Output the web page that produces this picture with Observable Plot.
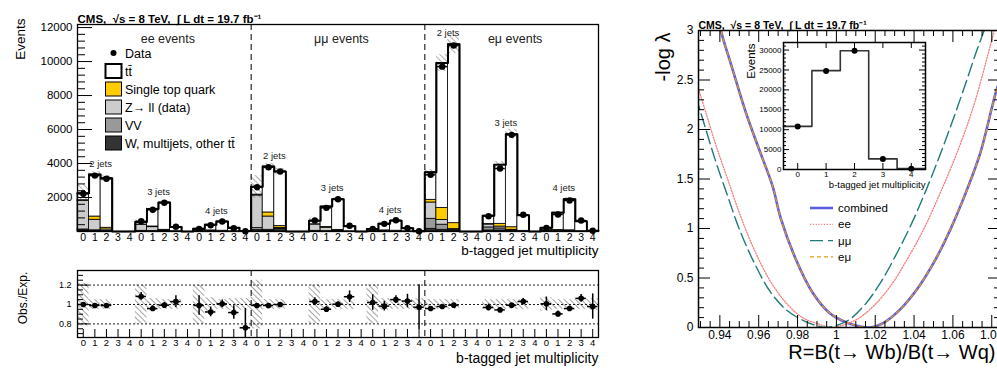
<!DOCTYPE html>
<html><head><meta charset="utf-8">
<script src="https://cdn.jsdelivr.net/npm/d3@7"></script>
<script src="https://cdn.jsdelivr.net/npm/@observablehq/plot@0.6"></script>
<style>
body{margin:0;background:#fff;}
#root{position:relative;width:997px;height:372px;overflow:hidden;background:#fff;font-family:"Liberation Sans",Arial,Helvetica,sans-serif;}
#root svg{position:absolute;max-width:none;}
</style></head><body><div id="root"></div>
<script>
// ---------------- DATA ----------------
const channels = ["ee", "μμ", "eμ"];
const jetLabels = ["2 jets", "3 jets", "4 jets"];
const btagLabels = ["0", "1", "2", "3", "4"];
// 45 bins: channel (ee, μμ, eμ) x jets (2,3,4) x b-tags (0..4)
const dataEvents = [
 2220, 3290, 3100, null, null,
 606, 1276, 1688, 276, null,
 157, 370, 588, 196, 20,
 2606, 3782, 3529, null, null,
 647, 1393, 1900, 335, null,
 157, 450, 665, 196, 20,
 3333, 9700, 10940, null, null,
 900, 3705, 5686, 982, null,
 216, 1000, 1823, 647, 40];
const mcTTbar = [
 410, 2470, 2910, 0, 0,
 150, 1035, 1600, 251, 0,
 85, 335, 539, 202, 24,
 460, 2700, 3210, 0, 0,
 203, 1195, 1799, 297, 0,
 79, 393, 587, 178, 19,
 1616, 8520, 10530, 0, 0,
 489, 3475, 5476, 912, 0,
 134, 1022, 1833, 589, 40];
const mcSingleTop = [
 40, 190, 100, 0, 0,
 10, 40, 40, 5, 0,
 5, 15, 20, 5, 1,
 50, 240, 100, 0, 0,
 15, 50, 40, 5, 0,
 5, 15, 20, 5, 1,
 157, 710, 350, 0, 0,
 30, 160, 150, 20, 0,
 10, 40, 50, 15, 1];
const mcZll = [
 1680, 620, 90, 0, 0,
 360, 230, 50, 10, 0,
 60, 40, 20, 5, 1,
 1920, 780, 50, 0, 0,
 370, 200, 40, 5, 0,
 60, 40, 20, 5, 1,
 960, 280, 10, 0, 0,
 170, 110, 20, 5, 0,
 20, 15, 5, 1, 0];
const mcVV = [
 60, 40, 10, 0, 0,
 20, 15, 5, 1, 0,
 5, 5, 3, 1, 0,
 120, 60, 20, 0, 0,
 20, 10, 5, 1, 0,
 5, 5, 3, 1, 0,
 590, 300, 60, 0, 0,
 180, 120, 40, 5, 0,
 30, 15, 5, 1, 0];
const mcOther = [
 60, 30, 20, 0, 0,
 20, 10, 5, 1, 0,
 5, 5, 3, 1, 0,
 80, 40, 150, 0, 0,
 20, 10, 10, 2, 0,
 5, 5, 3, 1, 0,
 157, 100, 70, 0, 0,
 60, 60, 40, 10, 0,
 20, 15, 10, 3, 0];
const mcRelUnc = [
 0.22, 0.05, 0.05, 0, 0,
 0.20, 0.06, 0.05, 0.05, 0,
 0.20, 0.07, 0.05, 0.06, 0.06,
 0.25, 0.05, 0.05, 0, 0,
 0.20, 0.05, 0.05, 0.05, 0,
 0.20, 0.06, 0.05, 0.05, 0.06,
 0.05, 0.05, 0.05, 0, 0,
 0.05, 0.05, 0.05, 0.05, 0,
 0.07, 0.05, 0.05, 0.05, 0.06];
const ratioObsExp = [
 1.0, 0.99, 0.99, null, null,
 1.083, 0.958, 0.993, 1.03, null,
 0.99, 0.923, 1.007, 0.917, 0.76,
 0.99, 0.99, 1.0, null, null,
 1.03, 0.951, 1.003, 1.08, null,
 1.02, 0.983, 1.05, 1.035, 0.972,
 0.958, 0.979, 0.993, null, null,
 0.969, 0.944, 0.993, 1.031, null,
 1.007, 0.903, 0.958, 1.063, 0.979];
const ratioErr = [
 0.02, 0.02, 0.02, 0, 0,
 0.04, 0.03, 0.025, 0.06, 0,
 0.10, 0.05, 0.04, 0.07, 0.20,
 0.02, 0.02, 0.02, 0, 0,
 0.04, 0.03, 0.025, 0.06, 0,
 0.08, 0.05, 0.04, 0.07, 0.23,
 0.02, 0.012, 0.012, 0, 0,
 0.035, 0.02, 0.015, 0.03, 0,
 0.07, 0.03, 0.025, 0.04, 0.13];

// inset: all channels summed
const insetBtag = [0, 1, 2, 3, 4];
const insetData = [10830, 24750, 29830, 2660, 170];
const insetMC = [10830, 24830, 29830, 2660, 250];

// likelihood scans
const combinedR = [0.9385, 0.9405, 0.9465, 0.9534, 0.9602, 0.9671, 0.9714, 0.9791, 0.9877, 0.9962, 1.0031, 1.009, 1.0145, 1.0176, 1.0245, 1.033, 1.0416, 1.0502, 1.0588, 1.0674, 1.0742, 1.0828, 1.0850];
const combinedNLL = [3.2, 3.0, 2.61, 2.17, 1.80, 1.43, 1.10, 0.69, 0.354, 0.152, 0.068, 0.024, 0.003, 0.0, 0.05, 0.186, 0.388, 0.657, 0.995, 1.40, 1.77, 2.42, 2.52];
const eeR = [0.9277, 0.9328, 0.938, 0.944, 0.95, 0.9568, 0.9653, 0.9739, 0.9825, 0.991, 0.997, 1.0022, 1.0108, 1.0193, 1.0279, 1.0365, 1.045, 1.0536, 1.0622, 1.0707, 1.0793, 1.0830];
const eeNLL = [2.49, 2.17, 1.84, 1.50, 1.16, 0.826, 0.49, 0.253, 0.10, 0.034, 0.0, 0.017, 0.085, 0.22, 0.42, 0.69, 0.995, 1.365, 1.77, 2.24, 2.85, 3.12];
const mumuR = [0.9277, 0.9328, 0.938, 0.944, 0.95, 0.9576, 0.9662, 0.9748, 0.9833, 0.9905, 0.995, 1.0057, 1.0142, 1.0228, 1.0314, 1.0399, 1.0485, 1.0571, 1.0656, 1.0725, 1.0790];
const mumuNLL = [2.33, 2.0, 1.67, 1.33, 0.995, 0.657, 0.354, 0.169, 0.068, 0.015, 0.0, 0.068, 0.22, 0.455, 0.76, 1.10, 1.50, 1.94, 2.41, 2.81, 3.15];
const emuR = combinedR.slice();
const emuNLL = [3.2, 3.0, 2.61, 2.17, 1.80, 1.43, 1.10, 0.69, 0.354, 0.152, 0.07, 0.026, 0.004, 0.0, 0.05, 0.186, 0.39, 0.66, 1.0, 1.40, 1.77, 2.42, 2.52];
const rTicks = [0.94, 0.96, 0.98, 1, 1.02, 1.04, 1.06, 1.08];
const nllTicks = [0, 0.5, 1, 1.5, 2, 2.5, 3];

// ---------------- STYLE ----------------
const FONT = '"Liberation Sans", Arial, Helvetica, sans-serif';
const titleText = "CMS,  √s = 8 TeV,  ∫ L dt = 19.7 fb⁻¹";
const root = document.getElementById("root");
function place(el, left, top) { el.style.left = left + "px"; el.style.top = top + "px"; root.appendChild(el); }
function addHatch(svg, id, color, sp, w) {
  const defs = document.createElementNS("http://www.w3.org/2000/svg", "defs");
  defs.innerHTML = `<pattern id="${id}" patternUnits="userSpaceOnUse" width="${sp}" height="${sp}" patternTransform="rotate(-45)"><line x1="0" y1="0" x2="0" y2="${sp}" stroke="${color}" stroke-width="${w}"/></pattern>`;
  svg.insertBefore(defs, svg.firstChild);
}

const stackDef = [["w", "#333333"], ["vv", "#999999"], ["z", "#cccccc"], ["st", "#ffcc00"], ["tt", "#ffffff"]];
const bins = d3.range(45).map(i => ({
  i, data: dataEvents[i], tt: mcTTbar[i], st: mcSingleTop[i], z: mcZll[i], vv: mcVV[i], w: mcOther[i],
  unc: mcRelUnc[i], ratio: ratioObsExp[i], rerr: ratioErr[i]
}));
bins.forEach(d => { d.total = d.w + d.vv + d.z + d.st + d.tt; });
const segments = [];
bins.forEach(d => { let y = 0; for (const [k, c] of stackDef) { const v = d[k]; if (v > 0) segments.push({i: d.i, y1: y, y2: y + v, fill: c}); y += v; } });
const outline = bins.flatMap(d => [{x: d.i - 0.5, y: d.total}, {x: d.i + 0.5, y: d.total}]);
const hatchBins = bins.filter(d => d.total > 0 && d.unc > 0);
const dataPts = bins.filter(d => d.data != null);
const ratioPts = bins.filter(d => d.ratio != null);
const jetGroups = [];
channels.forEach((c, ci) => jetLabels.forEach((j, ji) => {
  const g = bins.slice(ci * 15 + ji * 5, ci * 15 + ji * 5 + 5);
  jetGroups.push({label: j, x: ci * 15 + ji * 5 + 1.5, y: d3.max(g, d => d.total)});
}));

const binPx = 521 / 45;

// ---------------- TOP PANEL ----------------
const topPlot = Plot.plot({
  width: 610, height: 262, marginLeft: 77, marginRight: 12, marginTop: 24, marginBottom: 31,
  x: {domain: [-0.5, 44.5], axis: null},
  y: {domain: [0, 12180], axis: null},
  color: {type: "identity"},
  style: {fontFamily: FONT, background: "transparent", color: "#000"},
  marks: [
    Plot.rect(segments, {x1: d => d.i - 0.5, x2: d => d.i + 0.5, y1: "y1", y2: "y2", fill: "fill", stroke: "#000", strokeWidth: 0.8}),
    Plot.rect(hatchBins, {x1: d => d.i - 0.5, x2: d => d.i + 0.5, y1: d => d.total * (1 - d.unc), y2: d => d.total * (1 + d.unc), fill: "url(#hatchTop)"}),
    Plot.line(outline, {x: "x", y: "y", stroke: "#000", strokeWidth: 2}),
    Plot.ruleX([14.5, 29.5], {stroke: "#000", strokeWidth: 1, strokeDasharray: "6,4"}),
    Plot.ruleY(dataPts, {y: "data", x1: d => d.i - 0.45, x2: d => d.i + 0.45, stroke: "#000", strokeWidth: 1.5}),
    Plot.dot(dataPts, {x: "i", y: "data", r: 3.2, fill: "#000", stroke: null}),
    Plot.ruleY(d3.range(0, 12001, 2000), {x1: -0.5, x2: -0.5 + 15 / binPx, stroke: "#000", strokeWidth: 1}),
    Plot.ruleY(d3.range(400, 12001, 400).filter(v => v % 2000), {x1: -0.5, x2: -0.5 + 8 / binPx, stroke: "#000", strokeWidth: 1}),
    Plot.axisY({ticks: d3.range(2000, 12001, 2000), tickFormat: d => String(d), tickSize: 0, tickPadding: 5, fontSize: 11.5, label: null}),
    Plot.axisX({ticks: d3.range(45), tickFormat: d => btagLabels[d % 5], tickSize: 0, tickPadding: 2, fontSize: 10.5, label: null}),
    Plot.frame({stroke: "#000", strokeWidth: 1.3}),
    Plot.text(channels, {x: (d, k) => k * 15 + 7.3, frameAnchor: "top", dy: 10, text: d => d + " events", fontSize: 12.5, fill: "#222"}),
    Plot.text(jetGroups, {x: "x", y: "y", text: "label", dy: -11, fontSize: 9.5, fill: "#222"}),
    Plot.text([titleText], {frameAnchor: "top-left", dy: -10, textAnchor: "start", fontWeight: "bold", fontSize: 11.5}),
    Plot.text(["Events"], {frameAnchor: "top-left", dx: -62, dy: -6, rotate: -90, textAnchor: "end", fontSize: 13.5}),
    Plot.text(["b-tagged jet multiplicity"], {frameAnchor: "bottom-right", dy: 23.5, textAnchor: "end", fontSize: 13.5})
  ]
});
addHatch(topPlot, "hatchTop", "#333", 4, 0.8);
place(topPlot, 0, 0);

// legend (top-left)
const legendItems = [
  {label: "Data", kind: "dot"},
  {label: "tt̄", fill: "#ffffff", sw: 2},
  {label: "Single top quark", fill: "#ffcc00", sw: 1},
  {label: "Z→ ll (data)", fill: "#cccccc", sw: 1},
  {label: "VV", fill: "#999999", sw: 1},
  {label: "W, multijets, other tt̄", fill: "#333333", sw: 1}
];
const leg1 = d3.create("svg").attr("width", 300).attr("height", 160).style("font-family", FONT);
legendItems.forEach((d, k) => {
  const cy = 53 + k * 18;
  if (d.kind === "dot") leg1.append("circle").attr("cx", 113.5).attr("cy", cy).attr("r", 3).attr("fill", "#000");
  else leg1.append("rect").attr("x", 105.5).attr("y", cy - 7).attr("width", 16).attr("height", 14).attr("fill", d.fill).attr("stroke", "#000").attr("stroke-width", d.sw);
  leg1.append("text").attr("x", 125).attr("y", cy).attr("dy", "0.36em").attr("font-size", 12.5).text(d.label);
});
place(leg1.node(), 0, 0);

// ---------------- RATIO PANEL ----------------
const rPx = 67 / 0.69;
const ratioPlot = Plot.plot({
  width: 610, height: 110, marginLeft: 77, marginRight: 12, marginTop: 8, marginBottom: 35,
  x: {domain: [-0.5, 44.5], axis: null},
  y: {domain: [0.66, 1.35], axis: null},
  style: {fontFamily: FONT, background: "transparent", color: "#000"},
  marks: [
    Plot.rect(hatchBins, {x1: d => d.i - 0.5, x2: d => d.i + 0.5, y1: d => 1 - d.unc, y2: d => 1 + d.unc, fill: "url(#hatchRatio)", clip: true}),
    Plot.ruleY([0.8, 1, 1.2], {stroke: "#000", strokeWidth: 0.9, strokeDasharray: "2,2"}),
    Plot.ruleX([14.5, 29.5], {stroke: "#000", strokeWidth: 1, strokeDasharray: "6,4"}),
    Plot.ruleX(ratioPts, {x: "i", y1: d => d.ratio - d.rerr, y2: d => d.ratio + d.rerr, stroke: "#000", strokeWidth: 1.5, clip: true}),
    Plot.ruleY(ratioPts, {y: "ratio", x1: d => d.i - 0.45, x2: d => d.i + 0.45, stroke: "#000", strokeWidth: 1.5}),
    Plot.dot(ratioPts, {x: "i", y: "ratio", r: 2.8, fill: "#000", stroke: null}),
    Plot.ruleX(d3.range(45), {y1: 0.66, y2: 0.66 + 8 / rPx, stroke: "#000", strokeWidth: 1}),
    Plot.ruleY([0.8, 1, 1.2], {x1: -0.5, x2: -0.5 + 12 / binPx, stroke: "#000", strokeWidth: 1}),
    Plot.ruleY([0.7, 0.75, 0.85, 0.9, 0.95, 1.05, 1.1, 1.15, 1.25, 1.3], {x1: -0.5, x2: -0.5 + 6 / binPx, stroke: "#000", strokeWidth: 1}),
    Plot.axisY({ticks: [0.8, 1, 1.2], tickFormat: d => String(d), tickSize: 0, tickPadding: 6, fontSize: 9, label: null}),
    Plot.axisX({ticks: d3.range(45), tickFormat: d => btagLabels[d % 5], tickSize: 0, tickPadding: 2, fontSize: 9.5, label: null}),
    Plot.frame({stroke: "#000", strokeWidth: 1.3}),
    Plot.text(["Obs./Exp."], {frameAnchor: "left", dx: -54, dy: -6, rotate: -90, textAnchor: "middle", fontSize: 12}),
    Plot.text(["b-tagged jet multiplicity"], {frameAnchor: "bottom-right", dy: 25, textAnchor: "end", fontSize: 14})
  ]
});
addHatch(ratioPlot, "hatchRatio", "#333", 4, 0.9);
place(ratioPlot, 0, 262);

// ---------------- RIGHT PANEL ----------------
const toPts = (R, V) => R.map((r, k) => ({r, v: V[k]}));
const xPx = 302 / (1.0845 - 0.929), yPx = 297 / 3;
const xMinor = d3.range(0.93, 1.0846, 0.005).filter(v => Math.abs(v * 50 - Math.round(v * 50)) > 1e-6);
const yMinor = d3.range(0.1, 3, 0.1).filter(v => Math.abs(v * 2 - Math.round(v * 2)) > 1e-6);
const rightPlot = Plot.plot({
  width: 372, height: 372, marginLeft: 68, marginRight: 2, marginTop: 30, marginBottom: 45,
  x: {domain: [0.929, 1.0845], axis: null},
  y: {domain: [0, 3], axis: null},
  style: {fontFamily: FONT, background: "transparent", color: "#000"},
  marks: [
    Plot.line(toPts(combinedR, combinedNLL), {x: "r", y: "v", stroke: "#5c5ce0", strokeWidth: 2.6, curve: "catmull-rom", clip: true}),
    Plot.line(toPts(emuR, emuNLL), {x: "r", y: "v", stroke: "#e89a10", strokeWidth: 1.2, strokeDasharray: "4,3", curve: "catmull-rom", clip: true}),
    Plot.line(toPts(eeR, eeNLL), {x: "r", y: "v", stroke: "#f47c7c", strokeWidth: 1.3, strokeDasharray: "1.2,1.6", curve: "catmull-rom", clip: true}),
    Plot.line(toPts(mumuR, mumuNLL), {x: "r", y: "v", stroke: "#1f7a78", strokeWidth: 1.4, strokeDasharray: "13,5", curve: "catmull-rom", clip: true}),
    Plot.ruleX(rTicks, {y1: 0, y2: 12 / yPx, stroke: "#000"}),
    Plot.ruleX(rTicks, {y1: 3, y2: 3 - 12 / yPx, stroke: "#000"}),
    Plot.ruleX(xMinor, {y1: 0, y2: 6 / yPx, stroke: "#000"}),
    Plot.ruleX(xMinor, {y1: 3, y2: 3 - 6 / yPx, stroke: "#000"}),
    Plot.ruleY(nllTicks, {x1: 0.929, x2: 0.929 + 12 / xPx, stroke: "#000"}),
    Plot.ruleY(nllTicks, {x1: 1.0845, x2: 1.0845 - 12 / xPx, stroke: "#000"}),
    Plot.ruleY(yMinor, {x1: 0.929, x2: 0.929 + 6 / xPx, stroke: "#000"}),
    Plot.ruleY(yMinor, {x1: 1.0845, x2: 1.0845 - 6 / xPx, stroke: "#000"}),
    Plot.axisY({ticks: nllTicks, tickFormat: d => String(d), tickSize: 0, tickPadding: 5, fontSize: 12, label: null}),
    Plot.axisX({ticks: rTicks, tickFormat: d => String(d), tickSize: 0, tickPadding: 3, fontSize: 12, label: null}),
    Plot.frame({stroke: "#000", strokeWidth: 1.5}),
    Plot.text([titleText], {frameAnchor: "top-left", dy: -9, textAnchor: "start", fontWeight: "bold", fontSize: 10.5}),
    Plot.text(["-log λ"], {frameAnchor: "top-left", dx: -43, dy: 2, rotate: -90, textAnchor: "end", fontSize: 20}),
    Plot.text(["R=B(t→ Wb)/B(t→ Wq)"], {frameAnchor: "bottom-right", dx: -5, dy: 31, textAnchor: "end", fontSize: 20})
  ]
});
place(rightPlot, 630, 0);

// legend (right)
const leg2Items = [
  {label: "combined", stroke: "#5c5ce0", sw: 2.6, dash: null},
  {label: "ee", stroke: "#f47c7c", sw: 1.3, dash: "1.2,1.6"},
  {label: "μμ", stroke: "#1f7a78", sw: 1.4, dash: "13,5"},
  {label: "eμ", stroke: "#e89a10", sw: 1.2, dash: "4,3"}
];
const leg2 = d3.create("svg").attr("width", 120).attr("height", 80).style("font-family", FONT);
leg2Items.forEach((d, k) => {
  const cy = 8 + k * 16.3;
  leg2.append("line").attr("x1", 0).attr("x2", 23).attr("y1", cy).attr("y2", cy).attr("stroke", d.stroke).attr("stroke-width", d.sw).attr("stroke-dasharray", d.dash);
  leg2.append("text").attr("x", 28).attr("y", cy).attr("dy", "0.36em").attr("font-size", 11.5).text(d.label);
});
place(leg2.node(), 810, 200);

// ---------------- INSET ----------------
const insetPts = insetBtag.map((b, k) => ({b, data: insetData[k], mc: insetMC[k]}));
const insetStep = insetPts.flatMap(d => [{x: d.b - 0.5, y: d.mc}, {x: d.b + 0.5, y: d.mc}]);
const ixPx = 142 / 5, iyPx = 127 / 31900;
const insetPlot = Plot.plot({
  width: 195, height: 160, marginLeft: 43, marginRight: 10, marginTop: 7, marginBottom: 26,
  x: {domain: [-0.5, 4.5], axis: null},
  y: {domain: [0, 31900], axis: null},
  style: {fontFamily: FONT, background: "transparent", color: "#000"},
  marks: [
    Plot.frame({fill: "#fff", stroke: null}),
    Plot.line(insetStep, {x: "x", y: "y", stroke: "#333", strokeWidth: 1.6}),
    Plot.dot(insetPts, {x: "b", y: "data", r: 3, fill: "#000", stroke: null}),
    Plot.ruleY(d3.range(0, 30001, 5000), {x1: -0.5, x2: -0.5 + 6 / ixPx, stroke: "#000"}),
    Plot.ruleY(d3.range(0, 30001, 5000), {x1: 4.5, x2: 4.5 - 6 / ixPx, stroke: "#000"}),
    Plot.ruleY(d3.range(1000, 31001, 1000).filter(v => v % 5000), {x1: -0.5, x2: -0.5 + 3 / ixPx, stroke: "#000"}),
    Plot.ruleY(d3.range(1000, 31001, 1000).filter(v => v % 5000), {x1: 4.5, x2: 4.5 - 3 / ixPx, stroke: "#000"}),
    Plot.ruleX(insetBtag, {y1: 0, y2: 6 / iyPx, stroke: "#000"}),
    Plot.ruleX(insetBtag, {y1: 31900, y2: 31900 - 6 / iyPx, stroke: "#000"}),
    Plot.axisY({ticks: d3.range(0, 30001, 5000), tickFormat: d => String(d), tickSize: 0, tickPadding: 2, fontSize: 8, label: null}),
    Plot.axisX({ticks: insetBtag, tickFormat: d => String(d), tickSize: 0, tickPadding: 2, fontSize: 8, label: null}),
    Plot.frame({stroke: "#000", strokeWidth: 1.5}),
    Plot.text(["Events"], {frameAnchor: "top-left", dx: -37, dy: 1, rotate: -90, textAnchor: "end", fontSize: 11.5}),
    Plot.text(["b-tagged jet multiplicity"], {frameAnchor: "bottom-right", dy: 18, textAnchor: "end", fontSize: 9.5})
  ]
});
place(insetPlot, 740, 35);
</script></body></html>
